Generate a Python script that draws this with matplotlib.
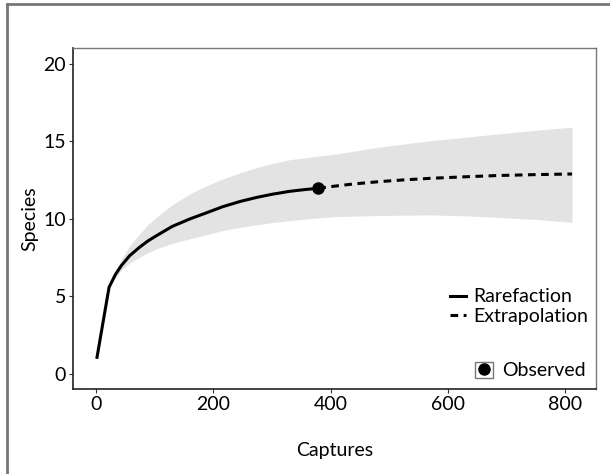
import matplotlib
matplotlib.use("Agg")
import matplotlib.pyplot as plt
from matplotlib.lines import Line2D
from matplotlib.patches import Rectangle
from matplotlib.legend_handler import HandlerTuple

plt.rcParams["font.family"] = ["Lato", "DejaVu Sans"]

# rarefaction curve (observed part)
rare_x = [1, 22, 33, 43, 57, 74, 88, 103, 130, 160, 190, 216, 245, 274, 300, 330, 355, 379]
rare_y = [0.95, 5.57, 6.4, 6.97, 7.6, 8.15, 8.55, 8.9, 9.5, 9.98, 10.4, 10.77, 11.1, 11.37, 11.57, 11.76, 11.87, 11.96]

# extrapolated part
extra_x = [379, 399, 440, 484, 525, 570, 630, 684, 750, 812]
extra_y = [11.96, 12.06, 12.24, 12.39, 12.5, 12.6, 12.7, 12.78, 12.84, 12.88]

# confidence band
band_x = [1, 22, 33, 45, 58, 74, 88, 103, 130, 160, 190, 216, 245, 274, 300, 330, 370, 410,
          480, 570, 630, 684, 750, 812]
band_lo = [0.95, 5.57, 6.2, 6.75, 7.15, 7.5, 7.8, 8.05, 8.4, 8.7, 8.98, 9.23, 9.43, 9.6, 9.74,
           9.87, 10.02, 10.13, 10.2, 10.24, 10.18, 10.08, 9.95, 9.76]
band_hi = [0.95, 5.6, 6.6, 7.5, 8.3, 9.0, 9.6, 10.1, 10.9, 11.6, 12.15, 12.56, 12.95, 13.3,
           13.55, 13.8, 14.0, 14.17, 14.6, 15.03, 15.25, 15.46, 15.7, 15.9]

obs_x, obs_y = 379, 11.96

xticks = [0, 200, 400, 600, 800]
yticks = [0, 5, 10, 15, 20]

fig = plt.figure(figsize=(6.1, 4.74), dpi=100)
ax = fig.add_axes([0.1197, 0.1793, 0.857, 0.719])

ax.fill_between(band_x, band_lo, band_hi, color="#e3e3e3", lw=0)
ax.plot(rare_x, rare_y, color="black", lw=2.2, solid_capstyle="butt")
ax.plot(extra_x, extra_y, color="black", lw=2.2, dashes=(2.5, 1.8))
ax.plot([obs_x], [obs_y], "o", color="black", ms=8)

ax.set_xlim(-39.5, 852.5)
ax.set_ylim(-1.0, 21.0)
ax.set_xticks(xticks)
ax.set_yticks(yticks)
ax.tick_params(labelsize=14, length=3, width=0.8, colors="#333333",
               labelcolor="black", pad=2)

for side in ["left", "bottom"]:
    ax.spines[side].set_color("#222222")
    ax.spines[side].set_linewidth(1.2)
for side in ["top", "right"]:
    ax.spines[side].set_color("#777777")
    ax.spines[side].set_linewidth(1.0)

ax.set_xlabel("Captures", fontsize=14, labelpad=21)
ax.set_ylabel("Species", fontsize=14, labelpad=4)

h_rare = Line2D([], [], color="black", lw=2.2)
h_extra = Line2D([], [], color="black", lw=2.2, dashes=(2.5, 1.8))
leg1 = ax.legend([h_rare, h_extra], ["Rarefaction", "Extrapolation"],
                 loc="lower right", bbox_to_anchor=(1.01, 0.15),
                 frameon=False, fontsize=14, handlelength=0.8,
                 handletextpad=0.4, labelspacing=0.15, borderaxespad=0.25)
ax.add_artist(leg1)

h_box = Rectangle((0, 0), 1, 1, facecolor="white", edgecolor="#777777", lw=1.0)
h_dot = Line2D([], [], marker="o", color="black", ls="none", ms=8)
ax.legend([(h_box, h_dot)], ["Observed"], loc="lower right",
          handler_map={tuple: HandlerTuple(ndivide=1)},
          frameon=False, fontsize=14, handlelength=0.9, handleheight=0.9,
          handletextpad=0.5, borderaxespad=0.1)

# outer frame lines (left and top)
fig.add_artist(Line2D([7 / 610, 7 / 610], [0, 1 - 4 / 474], color="#777777", lw=2.0))
fig.add_artist(Line2D([7 / 610, 1], [1 - 4 / 474, 1 - 4 / 474], color="#777777", lw=2.0))

fig.savefig("out.png", dpi=100)
